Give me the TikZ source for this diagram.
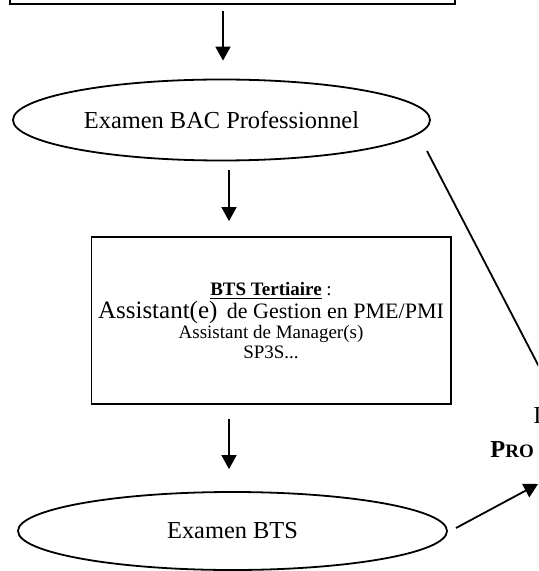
\documentclass[tikz,border=0pt]{standalone}
\usepackage{fontspec}
\setmainfont{Liberation Serif}
\usetikzlibrary{shapes.geometric, arrows.meta, calc}
\tikzset{
    exam/.style={ellipse, draw, line width=0.9pt, inner sep=0pt, font=\fontsize{12.2}{14}\selectfont},
    formation/.style={rectangle, draw, line width=0.9pt, align=center, font=\fontsize{9.5}{10}\selectfont},
    arrow/.style={-{Triangle[length=7pt, width=7.5pt]}, line width=0.9pt},
    cut/.style={inner sep=0pt, font=\fontsize{12.2}{14}\selectfont}
}

\begin{document}
\begin{tikzpicture}[x=0.5pt, y=-0.5pt]
    \useasboundingbox (0,0) rectangle (538,571);
    \clip (0,0) rectangle (538,571);

    \node (top) [formation, minimum width=222.5pt, minimum height=44pt] at (232.5,-40) {};
    \node (bac) [exam, minimum width=208.5pt, minimum height=40.5pt] at (221.5,120) {Examen BAC Professionnel};
    \node (bts) [formation, minimum width=176pt, minimum height=83.5pt] at (271,320.5)
        {\textbf{\underline{BTS Tertiaire}} :\\
         {\fontsize{12.5}{10}\selectfont Assistant(e)}\ \ {\fontsize{11}{10}\selectfont de Gestion en PME/PMI}\\
         Assistant de Manager(s)\\
         SP3S...};
    \node (examen) [exam, minimum width=214.5pt, minimum height=39pt] at (232.5,531) {Examen BTS};

    % texte du cadre coupe a droite
    \node (lpa) [cut, anchor=base west] at (533,423) {I};
    \node (lpb) [cut, anchor=base west] at (490,457) {\textbf{P{\fontsize{9.5}{14}\selectfont RO}}};
    \coordinate (lpin) at (548,384);
    \coordinate (lpin2) at (538,484);

    \draw[arrow] ($(top.south)+(-9.5,6)$) -- ($(bac.north)+(1.5,-18)$);
    \draw[arrow] ($(bac.south)+(7.5,9)$) -- ($(bts.north)+(-42,-15)$);
    \draw[arrow] ($(bts.south)+(-42,14)$) -- ($(examen.north)+(-3.5,-22)$);
    \draw[line width=0.9pt] ($(bac.center)+(205.5,31)$) -- (lpin);
    \draw[arrow] ($(examen.center)+(223.5,-3)$) -- (lpin2);
\end{tikzpicture}
\end{document}
